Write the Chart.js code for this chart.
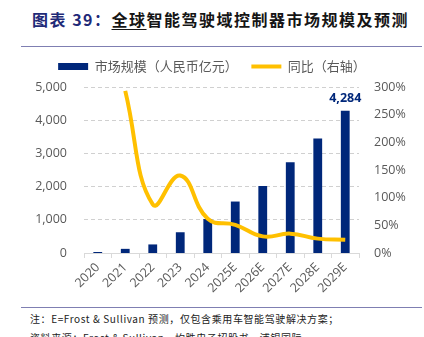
<!DOCTYPE html>
<html>
<head>
<meta charset="utf-8">
<script src="https://cdn.jsdelivr.net/npm/chart.js@4/dist/chart.umd.min.js"></script>
<style>
  html, body { margin: 0; padding: 0; background: #fff; }
  body { width: 424px; height: 337px; position: relative; overflow: hidden; font-family: "Noto Sans CJK SC", sans-serif; }
  #title { position: absolute; left: 32px; top: 7px; font-size: 16px; font-weight: bold; letter-spacing: 1.5px; white-space: nowrap; color: #151515; }
  #title .lead { color: #1F2A78; }
  #title u { text-decoration: underline; text-decoration-thickness: 1px; text-underline-offset: 3px; }
  .rule { position: absolute; left: 21px; width: 401px; height: 1px; background: #7F7FB2; }
  #chartBox { position: absolute; left: 0; top: 55px; width: 424px; height: 251px; }
  .note { position: absolute; left: 30px; font-size: 10px; color: #222; white-space: nowrap; letter-spacing: 0.6px; }
</style>
</head>
<body>
<div id="title"><span class="lead">图表 39：</span><u>全球</u>智能驾驶域控制器市场规模及预测</div>
<div class="rule" style="top:46px"></div>
<div id="chartBox"><canvas id="c"></canvas></div>
<div class="rule" style="top:307px"></div>
<div class="note" style="top:311px">注：E=Frost &amp; Sullivan 预测，仅包含乘用车智能驾驶解决方案；</div>
<div class="note" style="top:330px">资料来源：Frost &amp; Sullivan，均胜电子招股书，浦银国际</div>
<script>
const categories = ['2020','2021','2022','2023','2024','2025E','2026E','2027E','2028E','2029E'];
const marketSize = [30, 125, 258, 625, 1022, 1550, 2018, 2734, 3446, 4284];
const yoyGrowth = [null, 293, 88, 140, 62, 51, 30, 35, 26, 24];
const leftTicks = [0, 1000, 2000, 3000, 4000, 5000];
const rightTicks = [0, 50, 100, 150, 200, 250, 300];
const seriesNames = ['市场规模（人民币亿元）   ', '同比（右轴）'];

const NAVY = '#00277A';
const GOLD = '#FFC000';
const TICK = '#595959';
const numFont = { family: '"Open Sans", sans-serif', size: 12.5 };

const lastLabel = {
  id: 'lastLabel',
  afterDatasetsDraw(chart) {
    const meta = chart.getDatasetMeta(1);
    const i = marketSize.length - 1;
    const el = meta.data[i];
    const ctx = chart.ctx;
    ctx.save();
    ctx.fillStyle = NAVY;
    ctx.font = 'bold 12.5px "Open Sans", sans-serif';
    ctx.textAlign = 'center';
    ctx.textBaseline = 'bottom';
    ctx.fillText(marketSize[i].toLocaleString('en-US'), el.x, el.y - 6);
    ctx.restore();
  }
};

const legendGap = {
  id: 'legendGap',
  beforeInit(chart) {
    const lg = chart.legend;
    if (!lg) return;
    const fit = lg.fit;
    lg.fit = function () { fit.call(this); this.height += 4; };
  }
};

new Chart(document.getElementById('c'), {
  data: {
    labels: categories,
    datasets: [
      {
        type: 'line',
        label: seriesNames[1],
        data: yoyGrowth,
        yAxisID: 'y1',
        borderColor: GOLD,
        backgroundColor: GOLD,
        borderWidth: 4,
        tension: 0.45,
        pointRadius: 0,
        pointHoverRadius: 0,
        pointStyle: 'line',
        order: 0
      },
      {
        type: 'bar',
        label: seriesNames[0],
        data: marketSize,
        yAxisID: 'y',
        backgroundColor: NAVY,
        borderWidth: 0,
        barPercentage: 0.32,
        categoryPercentage: 1,
        pointStyle: 'rect',
        order: 1
      }
    ]
  },
  options: {
    responsive: true,
    maintainAspectRatio: false,
    animation: false,
    layout: { padding: { left: 0, right: 0, top: 0, bottom: 0 } },
    plugins: {
      tooltip: { enabled: false },
      legend: {
        position: 'top',
        reverse: true,
        labels: {
          usePointStyle: true,
          pointStyleWidth: 30,
          boxHeight: 7,
          padding: 5,
          color: TICK,
          font: { family: '"Noto Sans CJK SC", sans-serif', size: 13 }
        }
      }
    },
    scales: {
      x: {
        offset: true,
        grid: { display: true, drawOnChartArea: false, offset: true, tickLength: 5, color: '#D9D9D9' },
        border: { display: true, color: '#D9D9D9' },
        ticks: { color: TICK, font: numFont, minRotation: 45, maxRotation: 45, padding: 2 },
        afterFit(s) { s.height = 53; }
      },
      y: {
        position: 'left',
        min: 0, max: 5000,
        afterBuildTicks(s) { s.ticks = leftTicks.map(v => ({ value: v })); },
        grid: { color: '#D0D0D0', drawTicks: false, lineWidth: c => c.tick.value === 0 ? 0 : 1 },
        border: { display: false, dash: [4, 3] },
        ticks: { color: TICK, font: numFont, padding: 17, callback: v => v.toLocaleString('en-US') },
        afterFit(s) { s.width = 84; }
      },
      y1: {
        position: 'right',
        min: 0, max: 300,
        afterBuildTicks(s) { s.ticks = rightTicks.map(v => ({ value: v })); },
        grid: { display: false, drawTicks: false },
        border: { display: false },
        ticks: { color: TICK, font: numFont, padding: 15, callback: v => v + '%' },
        afterFit(s) { s.width = 65; }
      }
    }
  },
  plugins: [lastLabel, legendGap]
});
</script>
</body>
</html>
